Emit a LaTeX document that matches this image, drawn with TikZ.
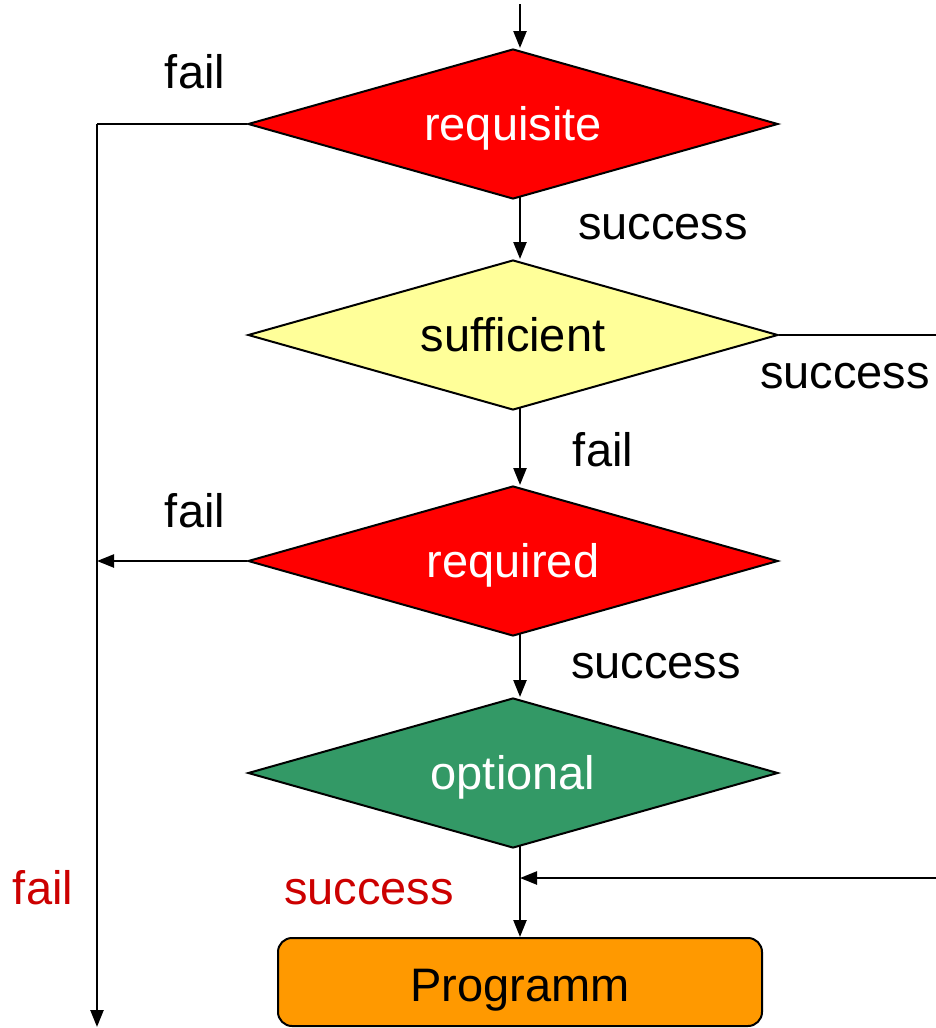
\documentclass[tikz,border=0pt]{standalone}
\usepackage{fontspec}
\setmainfont{Liberation Sans}
\usetikzlibrary{shapes.geometric,arrows.meta}
\definecolor{decred}{HTML}{FF0000}
\definecolor{decyellow}{HTML}{FFFF99}
\definecolor{decgreen}{HTML}{339966}
\definecolor{progorange}{HTML}{FF9900}
\definecolor{labred}{HTML}{CC0000}
\begin{document}
\begin{tikzpicture}[x=1pt,y=-1pt,
  every node/.style={font=\fontsize{47}{56}\selectfont},
  decision/.style={shape=diamond,aspect=3.53,draw=black,line width=2pt,inner sep=0pt,
    minimum width=530pt,minimum height=150pt,text height=36pt,text depth=4pt},
  progbox/.style={draw=black,line width=2pt,rounded corners=14pt,fill=progorange,
    minimum width=484pt,minimum height=88pt,inner sep=0pt,text height=38pt,text depth=0pt},
  conn/.style={line width=2.4pt},
  arr/.style={conn,-{Triangle[length=17pt,width=13pt]}},
  lab/.style={inner sep=0pt,anchor=base}]
\useasboundingbox (0,0) rectangle (936,1028);

% decisions
\node[decision,fill=decred,text=white]   (req)  at (513,124) {requisite};
\node[decision,fill=decyellow,text=black](suf)  at (513,335) {sufficient};
\node[decision,fill=decred,text=white]   (reqd) at (513,561) {required};
\node[decision,fill=decgreen,text=white] (opt)  at (513,773) {optional};
\node[progbox] (prog) at (520,982) {Programm};

% helper points
\coordinate (in)   at (520,4);
\coordinate (rail) at (97,124);
\coordinate (railend) at (97,1027);
\coordinate (sufout) at (937,335);
\coordinate (back) at (937,878);
\coordinate (join) at (520,878);

% main flow
\draw[arr] (in) -- (in |- req.north);
\draw[arr] (520,197) -- (520,259);
\draw[arr] (520,408) -- (520,485);
\draw[arr] (520,634) -- (520,697);
\draw[conn] (520,846) -- (join);
\draw[arr] (join) -- (join |- prog.north);

% fail rail on the left
\draw[conn] (req.west) -- (rail);
\draw[arr] (rail) -- (railend);
\draw[arr] (reqd.west) -- (reqd.west -| rail);

% sufficient success bypass
\draw[conn] (suf.east) -- (sufout);
\draw[arr] (back) -- (join);

% labels
\node[lab] at (195,88)  {fail};
\node[lab] at (663,239) {success};
\node[lab] at (845,388) {success};
\node[lab] at (603,466) {fail};
\node[lab] at (195,527) {fail};
\node[lab] at (656,678) {success};
\node[lab,text=labred] at (43,904)  {fail};
\node[lab,text=labred] at (369,904) {success};
\end{tikzpicture}
\end{document}
